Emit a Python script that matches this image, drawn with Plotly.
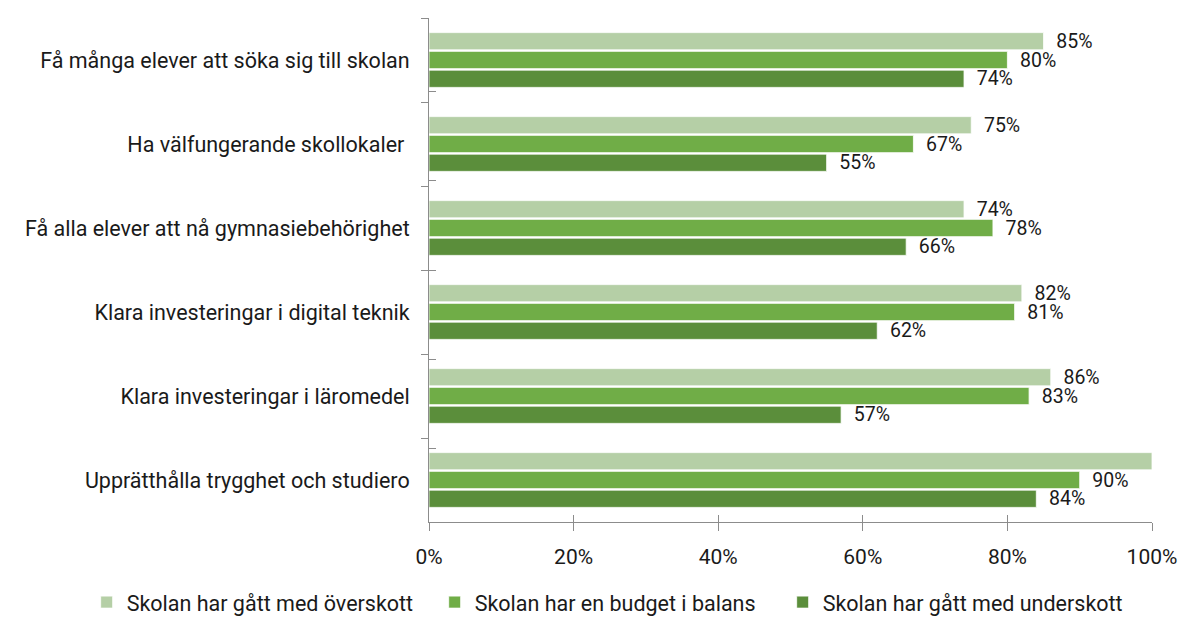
import plotly.graph_objects as go

categories = [
    "Få många elever att söka sig till skolan",
    "Ha välfungerande skollokaler\u00a0",
    "Få alla elever att nå gymnasiebehörighet",
    "Klara investeringar i digital teknik",
    "Klara investeringar i läromedel",
    "Upprätthålla trygghet och studiero",
]
series_names = [
    "Skolan har gått med överskott",
    "Skolan har en budget i balans",
    "Skolan har gått med underskott",
]
overskott = [85, 75, 74, 82, 86, 100]
balans = [80, 67, 78, 81, 83, 90]
underskott = [74, 55, 66, 62, 57, 84]
colors = ["#B5CFA6", "#70AD47", "#5B8E3B"]
x_ticks = [0, 20, 40, 60, 80, 100]
x_tick_labels = ["0%", "20%", "40%", "60%", "80%", "100%"]

FONT = "Roboto"
TXT = "#1a1a1a"
AX = "#8c8c8c"

fig = go.Figure()
for name, vals, col in zip(series_names, [overskott, balans, underskott], colors):
    labels = ["\u00a0\u00a0" + f"{v}%" if v < 100 else "" for v in vals]
    fig.add_trace(go.Bar(
        name=name, y=categories, x=vals, orientation="h",
        marker=dict(color=col, line=dict(color="rgba(255,255,255,0.8)", width=1)),
        text=labels, textposition="outside", cliponaxis=False, constraintext="none",
        textfont=dict(family=FONT, size=19.5, color=TXT),
    ))

# invisible helper trace for the overlaid axes that draw the inner half of the cross ticks
fig.add_trace(go.Scatter(
    x=overskott, y=categories, xaxis="x2", yaxis="y2", mode="markers",
    marker=dict(opacity=0), showlegend=False, hoverinfo="skip",
))

fig.update_layout(
    width=1182, height=628,
    margin=dict(l=429, r=30, t=18, b=106, autoexpand=False),
    paper_bgcolor="white", plot_bgcolor="white",
    barmode="group", bargap=0.33, bargroupgap=0.08,
    font=dict(family=FONT, size=21.5, color=TXT),
    xaxis=dict(
        range=[0, 100], tickvals=x_ticks, ticktext=x_tick_labels,
        showgrid=False, zeroline=False, showline=True, linecolor=AX, linewidth=1,
        ticks="outside", ticklen=8, tickcolor=AX, automargin=False,
        tickfont=dict(family=FONT, size=21, color=TXT), ticklabelstandoff=8,
    ),
    yaxis=dict(
        autorange="reversed", showgrid=False, zeroline=False,
        showline=True, linecolor=AX, linewidth=1, automargin=False,
        ticks="outside", ticklen=7, tickcolor=AX, tickson="boundaries",
        tickfont=dict(family=FONT, size=21.5, color=TXT), ticklabelstandoff=14,
    ),
    xaxis2=dict(
        overlaying="x", anchor="y", range=[0, 100], tickvals=x_ticks,
        showticklabels=False, showgrid=False, zeroline=False, showline=False,
        ticks="inside", ticklen=7, tickcolor=AX, side="bottom", automargin=False,
    ),
    yaxis2=dict(
        overlaying="y", anchor="x", autorange="reversed", side="left",
        showticklabels=False, showgrid=False, zeroline=False, showline=False,
        ticks="inside", ticklen=7, tickcolor=AX, tickson="boundaries", automargin=False,
    ),
    legend=dict(
        orientation="h", x=-0.4735, xanchor="left", y=-0.159, yanchor="middle",
        font=dict(family=FONT, size=21.5, color=TXT), traceorder="normal",
        itemwidth=30, entrywidth=303,
    ),
)

fig.write_html("out.html", config={"displayModeBar": False},
               post_script="document.body.style.margin='0';")
